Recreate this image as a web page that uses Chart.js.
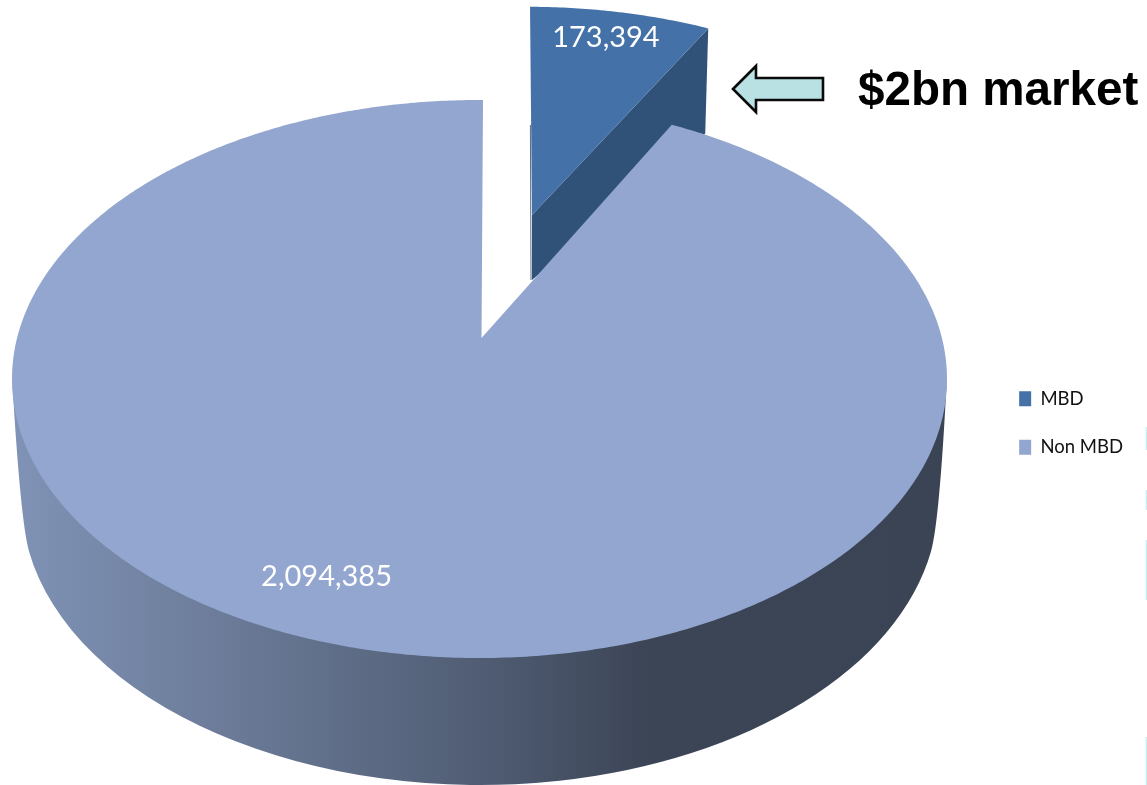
<!DOCTYPE html>
<html>
<head>
<meta charset="utf-8">
<title>MBD share of market</title>
<script src="https://cdn.jsdelivr.net/npm/chart.js@4/dist/chart.umd.js"></script>
<style>
  html, body { margin: 0; padding: 0; background: #fff; }
  canvas { display: block; }
</style>
</head>
<body>
<canvas id="pie" width="1147" height="785"></canvas>
<script>
// Market split
const categories = ['MBD', 'Non MBD'];
const marketValues = [173394, 2094385];
const sliceColours = ['#4471a7', '#93a6cf'];
const calloutText = '$2bn market';

// Geometry of the tilted disc
const disc = { cx: 479.5, cy: 379, rx: 467.5, ry: 279, tilt: 0.147, hubShiftX: 2 };
const base = { cx: 480, cy: 502, rx: 458, ry: 283 };
// Exploded slice: new hub, scale about the hub, shear, and cut-wall depth
const exploded = { hubX: 532, hubY: 215, sx: 0.942, sy: 0.875, shear: 0.0143, hubDepth: 65, rimDepth: 105 };
const labelPlacement = [{ turn: -0.7, r: 0.86 }, { turn: 6.5, r: 0.83 }];

// Perspective map from the unit disc onto the tilted ellipse. The hub lands above the ellipse centre.
function project(theta, r) {
  const u = r * Math.sin(theta), v = r * Math.cos(theta);
  const k = disc.tilt, s = Math.sqrt(1 - k * k), d = 1 + k * v;
  return {
    x: disc.cx + disc.rx * (u * s / d) + disc.hubShiftX * (1 - r * r),
    y: disc.cy - disc.ry * ((v + k) / d)
  };
}

function projectExploded(theta, r) {
  const hub = project(0, 0), p = project(theta, r);
  const dx = p.x - hub.x, dy = p.y - hub.y;
  return { x: exploded.hubX + exploded.sx * dx + exploded.shear * dy, y: exploded.hubY + exploded.sy * dy };
}

function traceWedge(ctx, from, to, map) {
  const hub = map(0, 0);
  ctx.beginPath();
  ctx.moveTo(hub.x, hub.y);
  const steps = Math.ceil((to - from) / 0.01);
  for (let i = 0; i <= steps; i++) {
    const p = map(from + (to - from) * i / steps, 1);
    ctx.lineTo(p.x, p.y);
  }
  ctx.closePath();
}

// Replaces the flat arcs with a tilted, extruded pie using the angles the controller computed
const tiltedPie = {
  id: 'tiltedPie',
  beforeDatasetsDraw(chart) {
    const ctx = chart.ctx;
    const arcs = chart.getDatasetMeta(0).data;
    const angles = arcs.map(a => [a.startAngle + Math.PI / 2, a.endAngle + Math.PI / 2]);
    ctx.save();

    // Exploded MBD slice: cut wall, then top face
    const [a0, a1] = angles[0];
    const rim = projectExploded(a1, 1);
    const hub = projectExploded(0, 0);
    ctx.fillStyle = '#305278';
    ctx.beginPath();
    ctx.moveTo(hub.x, hub.y);
    ctx.lineTo(rim.x, rim.y);
    ctx.lineTo(rim.x - 3, rim.y + exploded.rimDepth);
    ctx.lineTo(hub.x, hub.y + exploded.hubDepth);
    ctx.closePath();
    ctx.fill();
    ctx.fillStyle = arcs[0].options.backgroundColor;
    traceWedge(ctx, a0, a1, projectExploded);
    ctx.fill();
    ctx.strokeStyle = 'rgba(35,62,98,0.75)';
    ctx.lineWidth = 1;
    ctx.beginPath();
    ctx.moveTo(hub.x - 1, hub.y + exploded.hubDepth);
    ctx.lineTo(hub.x - 1.6, hub.y - 90);
    ctx.stroke();

    // Outer wall of the main slice
    const wall = ctx.createLinearGradient(disc.cx - disc.rx, 0, disc.cx + disc.rx, 0);
    wall.addColorStop(0, '#8093b6');
    wall.addColorStop(0.2, '#6e7e9c');
    wall.addColorStop(0.5, '#505d74');
    wall.addColorStop(0.68, '#3c4556');
    wall.addColorStop(1, '#3a4455');
    ctx.fillStyle = wall;
    const tangent = 10 * Math.PI / 180;
    const leftJoin = { x: base.cx - base.rx * Math.cos(tangent), y: base.cy + base.ry * Math.sin(tangent) };
    const rightJoin = { x: base.cx + base.rx * Math.cos(tangent), y: leftJoin.y };
    ctx.beginPath();
    ctx.moveTo(disc.cx - disc.rx + 0.5, disc.cy + 6);
    ctx.quadraticCurveTo(leftJoin.x - 8.3, leftJoin.y - 29, leftJoin.x, leftJoin.y);
    ctx.ellipse(base.cx, base.cy, base.rx, base.ry, 0, Math.PI - tangent, tangent, true);
    ctx.quadraticCurveTo(rightJoin.x + 8.3, rightJoin.y - 29, disc.cx + disc.rx - 0.5, disc.cy + 6);
    ctx.closePath();
    ctx.fill();

    // Top face of the main slice
    ctx.fillStyle = arcs[1].options.backgroundColor;
    traceWedge(ctx, angles[1][0], angles[1][1], project);
    ctx.fill();

    // Value labels
    ctx.fillStyle = '#ffffff';
    ctx.font = '29px Lato, sans-serif';
    ctx.textAlign = 'center';
    ctx.textBaseline = 'middle';
    arcs.forEach((a, i) => {
      const mid = (angles[i][0] + angles[i][1]) / 2 + labelPlacement[i].turn * Math.PI / 180;
      const p = (i === 0 ? projectExploded : project)(mid, labelPlacement[i].r);
      ctx.fillText(marketValues[i].toLocaleString('en-US'), p.x, p.y);
    });
    ctx.restore();
    return false;
  },
  afterDraw(chart) {
    const ctx = chart.ctx;
    ctx.save();

    // Callout arrow pointing at the exploded slice
    ctx.beginPath();
    [[733, 89], [756, 66], [756, 78], [823, 78], [823, 100], [756, 100], [756, 112]]
      .forEach(([x, y], i) => (i ? ctx.lineTo(x, y) : ctx.moveTo(x, y)));
    ctx.closePath();
    ctx.fillStyle = '#b9e0e3';
    ctx.fill();
    ctx.strokeStyle = '#0a0a0a';
    ctx.lineWidth = 2.6;
    ctx.lineJoin = 'miter';
    ctx.stroke();

    ctx.fillStyle = '#000000';
    ctx.font = 'bold 47.6px "Liberation Sans", Arial, sans-serif';
    ctx.textAlign = 'left';
    ctx.textBaseline = 'alphabetic';
    ctx.fillText(calloutText, 858, 105);

    // Pale rule fragments along the right edge of the page
    ctx.strokeStyle = '#c6eff3';
    ctx.lineWidth = 1.5;
    [[427, 450], [490, 510], [540, 600], [737, 785]].forEach(([y0, y1]) => {
      ctx.beginPath();
      ctx.moveTo(1146.5, y0);
      ctx.lineTo(1146.5, y1);
      ctx.stroke();
    });
    ctx.restore();
  }
};

new Chart(document.getElementById('pie'), {
  type: 'pie',
  data: {
    labels: categories,
    datasets: [{ data: marketValues, backgroundColor: sliceColours, borderWidth: 0 }]
  },
  options: {
    responsive: false,
    animation: false,
    rotation: 0.5,
    layout: { padding: { top: 61, right: 14, bottom: 0, left: 0 } },
    plugins: {
      tooltip: { enabled: false },
      legend: {
        position: 'right',
        align: 'center',
        labels: {
          boxWidth: 12,
          boxHeight: 15,
          padding: 30,
          color: '#111111',
          font: { family: 'Lato, sans-serif', size: 18.5 }
        }
      }
    }
  },
  plugins: [tiltedPie]
});
</script>
</body>
</html>
